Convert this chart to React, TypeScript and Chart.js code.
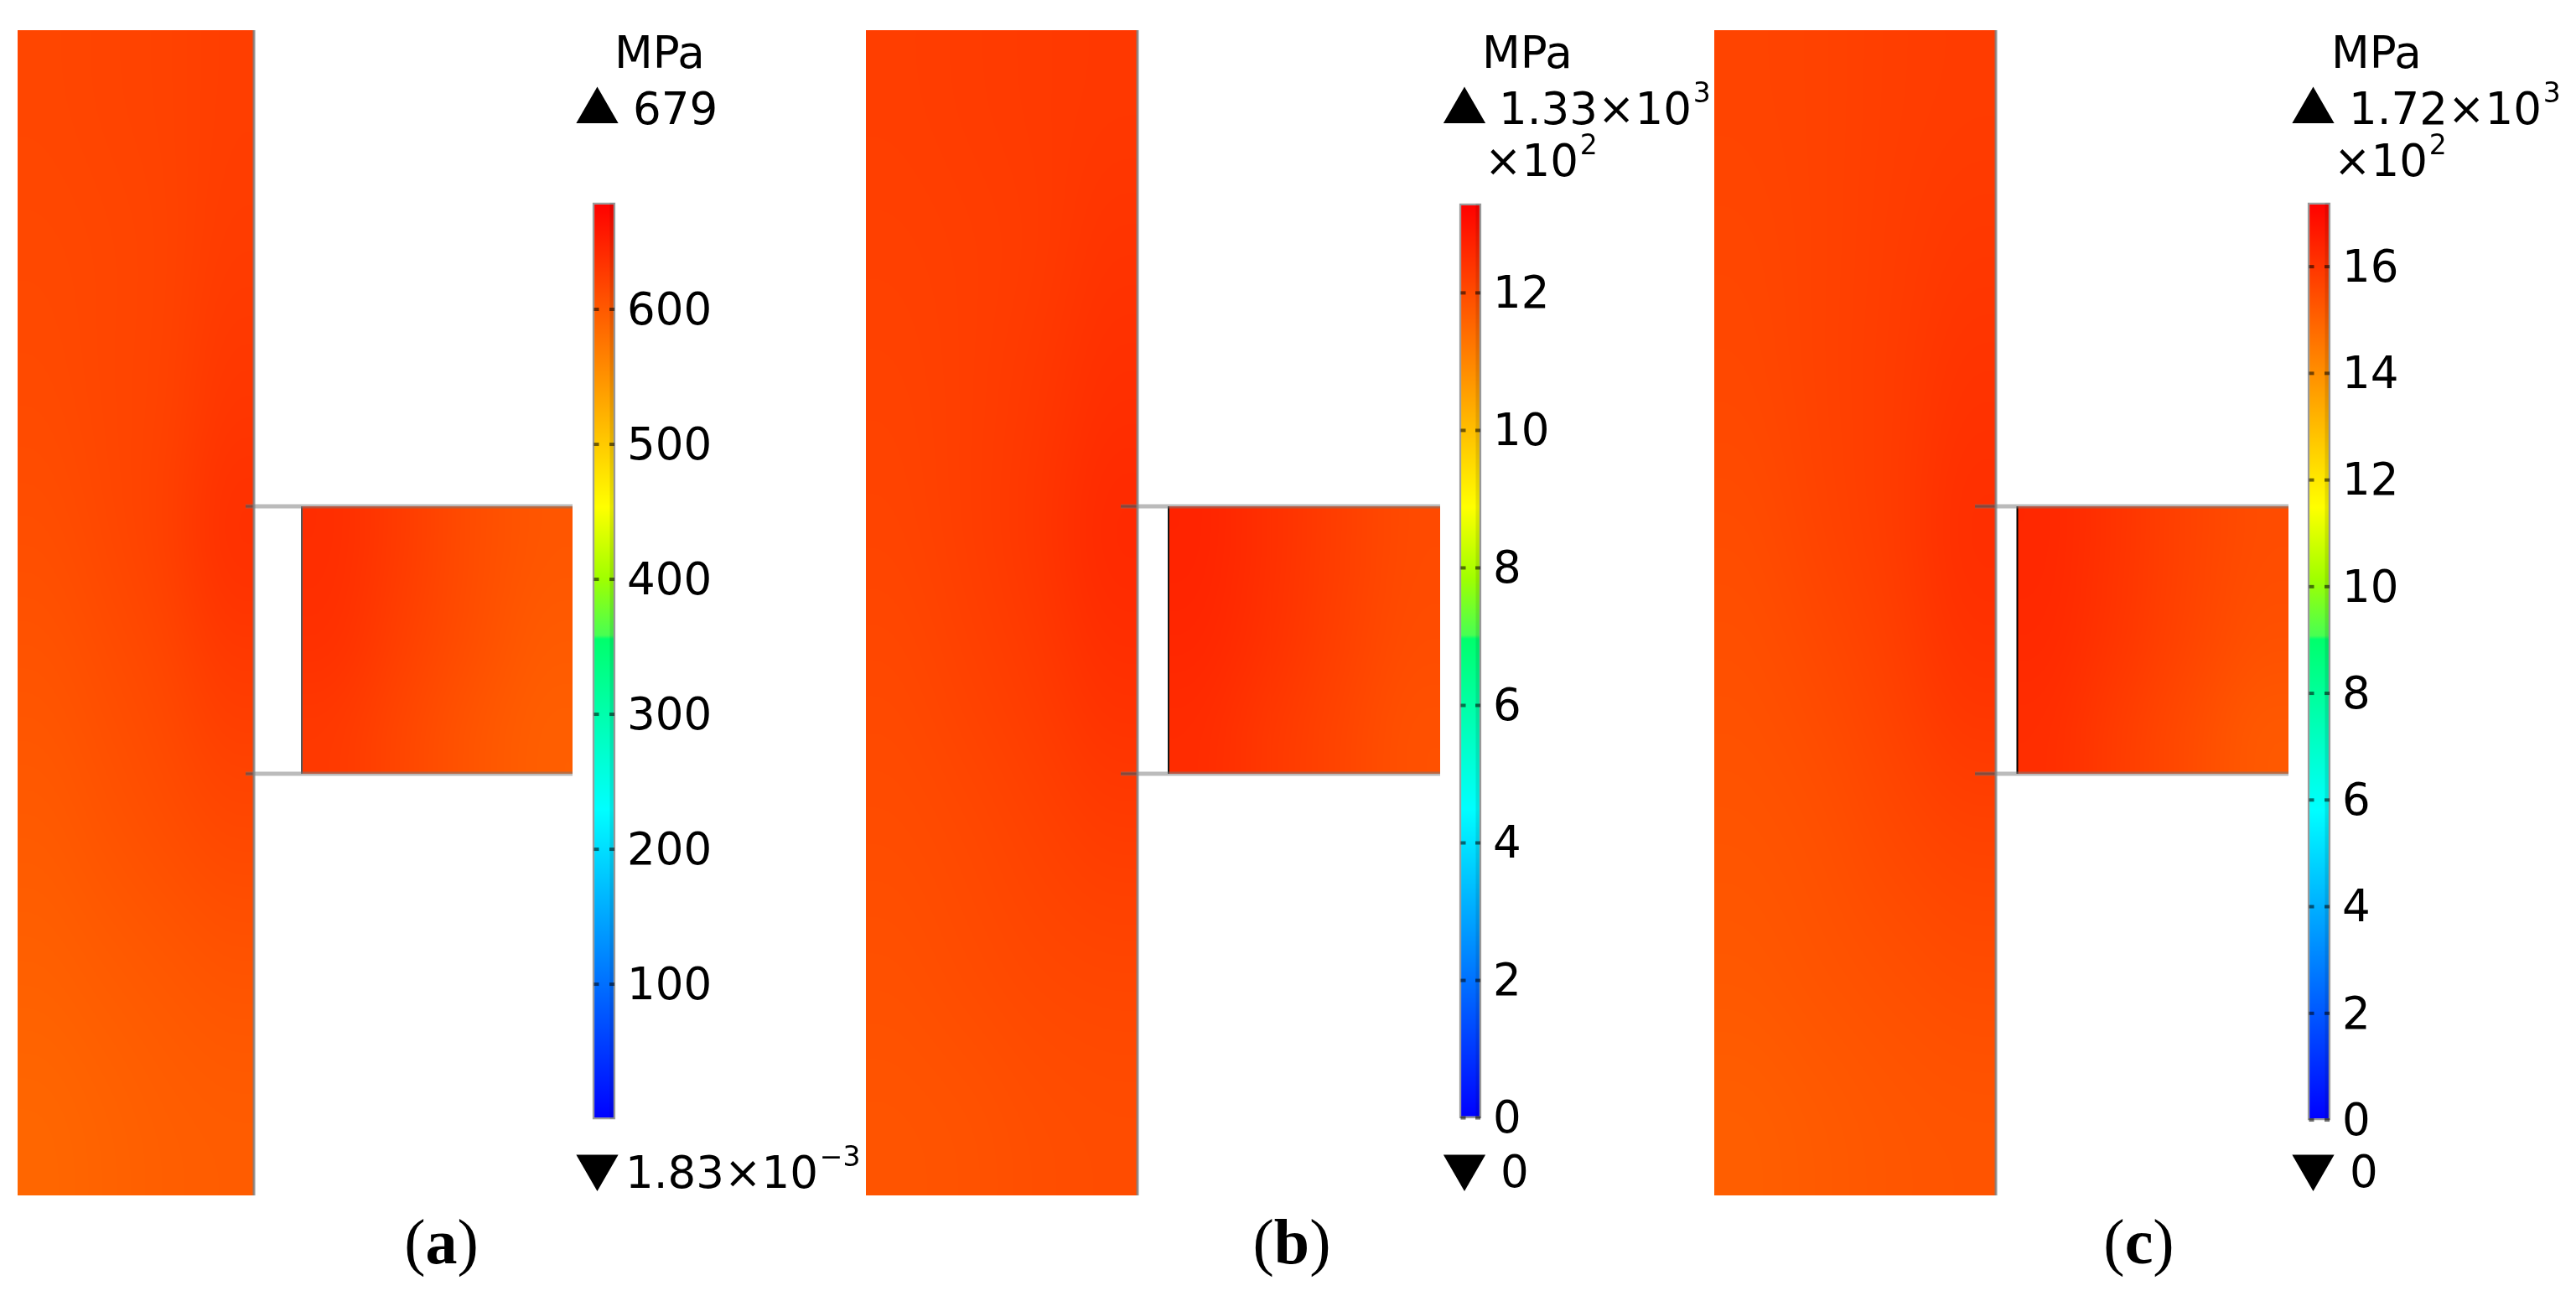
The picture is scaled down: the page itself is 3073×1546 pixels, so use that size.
import { useEffect, useRef } from "react"
import { Chart, registerables } from "chart.js"

Chart.register(...registerables)

const PAGE_WIDTH = 3073
const PAGE_HEIGHT = 1546
const FONT = '"DejaVu Sans"'

// rainbow colour table of the legend: [fraction of range, colour]
const colorStops: [number, string][] = [
  [0, "#0000ff"],
  [0.338, "#00ffff"],
  [0.524, "#00ff6c"],
  [0.528, "#48ff52"],
  [0.59, "#a0ff00"],
  [0.668, "#ffff00"],
  [1, "#ff0000"],
]

const ticksA = [100, 200, 300, 400, 500, 600]
const ticksB = [0, 2, 4, 6, 8, 10, 12]
const ticksC = [0, 2, 4, 6, 8, 10, 12, 14, 16]

const plateA = [
  [617, 619, 621, 624],
  [615, 617, 620, 626],
  [614, 617, 621, 630],
  [610, 615, 622, 636],
  [605, 610, 616, 626],
  [599, 605, 610, 615],
  [594, 598, 601, 605],
  [589, 592, 596, 598],
]
const rectA = [
  [638, 626, 612, 603],
  [636, 622, 610, 599],
  [629, 617, 605, 596],
]
const plateB = [
  [1223, 1226, 1230, 1233],
  [1219, 1223, 1228, 1240],
  [1216, 1223, 1233, 1248],
  [1212, 1223, 1236, 1258],
  [1205, 1216, 1228, 1246],
  [1198, 1205, 1216, 1226],
  [1191, 1198, 1205, 1209],
  [1185, 1188, 1195, 1198],
]
const rectB = [
  [1268, 1247, 1223, 1202],
  [1262, 1243, 1219, 1198],
  [1254, 1233, 1212, 1191],
]
const plateC = [
  [1568, 1572, 1581, 1586],
  [1563, 1572, 1583, 1595],
  [1559, 1572, 1586, 1605],
  [1550, 1568, 1586, 1615],
  [1541, 1554, 1574, 1602],
  [1532, 1541, 1559, 1572],
  [1523, 1532, 1541, 1550],
  [1509, 1518, 1527, 1532],
]
const rectC = [
  [1630, 1604, 1572, 1550],
  [1626, 1599, 1568, 1541],
  [1617, 1586, 1554, 1523],
]

interface Label {
  text: string
  sup?: string
  x: number
  y: number
}

interface Panel {
  left: number
  width: number
  plate: number[][]
  rect: number[][]
  plateX: [number, number]
  rectX: [number, number]
  barX: [number, number]
  connectorStart: number
  rectEdge: string
  triangleX: number
  // field range in MPa, legend range in axis units
  fieldMax: number
  legendMax: number
  ticks: number[]
  axisMin: number
  axisMax: number
  labels: Label[]
  caption: string
  captionX: number
}

const panels: Panel[] = [
  {
    left: 0,
    width: 1030,
    plate: plateA,
    rect: rectA,
    plateX: [21, 303],
    rectX: [360, 683],
    barX: [707, 734],
    connectorStart: 293,
    rectEdge: "#555555",
    triangleX: 712.5,
    fieldMax: 679,
    legendMax: 679,
    ticks: ticksA,
    axisMin: -131,
    axisMax: 829.2,
    labels: [
      { text: "MPa", x: 733, y: 81 },
      { text: "679", x: 755, y: 148 },
      { text: "1.83×10", sup: "−3", x: 746, y: 1417 },
    ],
    caption: "a",
    captionX: 526.5,
  },
  {
    left: 1030,
    width: 1013,
    plate: plateB,
    rect: rectB,
    plateX: [1033, 1357],
    rectX: [1394, 1718],
    barX: [1741, 1767],
    connectorStart: 1337,
    rectEdge: "#151515",
    triangleX: 1747,
    fieldMax: 1330,
    legendMax: 13.3,
    ticks: ticksB,
    axisMin: -2.59,
    axisMax: 16.26,
    labels: [
      { text: "MPa", x: 1768, y: 81 },
      { text: "1.33×10", sup: "3", x: 1788, y: 148 },
      { text: "×10", sup: "2", x: 1771, y: 210 },
      { text: "0", x: 1790, y: 1416 },
    ],
    caption: "b",
    captionX: 1541,
  },
  {
    left: 2043,
    width: 1030,
    plate: plateC,
    rect: rectC,
    plateX: [2045, 2381],
    rectX: [2406.5, 2730],
    barX: [2753, 2780],
    connectorStart: 2356,
    rectEdge: "#000000",
    triangleX: 2759.5,
    fieldMax: 1720,
    legendMax: 17.2,
    ticks: ticksC,
    axisMin: -3.3,
    axisMax: 21,
    labels: [
      { text: "MPa", x: 2781, y: 81 },
      { text: "1.72×10", sup: "3", x: 2802, y: 148 },
      { text: "×10", sup: "2", x: 2784, y: 210 },
      { text: "0", x: 2803, y: 1416 },
    ],
    caption: "c",
    captionX: 2551.5,
  },
]

const PLATE_Y: [number, number] = [36, 1426]
const RECT_Y: [number, number] = [604, 923]

function hexToRgb(hex: string) {
  return [1, 3, 5].map((i) => parseInt(hex.slice(i, i + 2), 16))
}

function colorAt(fraction: number) {
  for (let i = 1; i < colorStops.length; i++) {
    const [f0, c0] = colorStops[i - 1]
    const [f1, c1] = colorStops[i]
    if (fraction <= f1) {
      const t = Math.max(0, (fraction - f0) / (f1 - f0))
      const a = hexToRgb(c0)
      const b = hexToRgb(c1)
      return a.map((v, k) => Math.round(v + (b[k] - v) * t))
    }
  }
  return hexToRgb(colorStops[colorStops.length - 1][1])
}

// small image of the matrix, the browser smooths it when it is scaled up
function fieldImage(matrix: number[][], max: number) {
  const canvas = document.createElement("canvas")
  canvas.width = matrix[0].length
  canvas.height = matrix.length
  const ctx = canvas.getContext("2d")!
  const image = ctx.createImageData(canvas.width, canvas.height)
  matrix.forEach((row, r) =>
    row.forEach((value, c) => {
      const [red, green, blue] = colorAt(value / max)
      image.data.set([red, green, blue, 255], (r * canvas.width + c) * 4)
    })
  )
  ctx.putImageData(image, 0, 0)
  return canvas
}

function contourPlugin(panel: Panel) {
  const fields = [
    { image: fieldImage(panel.plate, panel.fieldMax), xs: panel.plateX, ys: PLATE_Y },
    { image: fieldImage(panel.rect, panel.fieldMax), xs: panel.rectX, ys: RECT_Y },
  ]
  return {
    id: "contour",
    beforeDatasetsDraw(chart: any) {
      const { ctx, scales } = chart
      ctx.save()
      ctx.imageSmoothingEnabled = true
      ctx.imageSmoothingQuality = "high"
      for (const f of fields) {
        const x0 = scales.x.getPixelForValue(f.xs[0])
        const x1 = scales.x.getPixelForValue(f.xs[1])
        const y0 = scales.geo.getPixelForValue(f.ys[0])
        const y1 = scales.geo.getPixelForValue(f.ys[1])
        ctx.drawImage(f.image, x0, y0, x1 - x0, y1 - y0)
      }
      ctx.restore()
    },
  }
}

function textPlugin(panel: Panel) {
  return {
    id: "panelText",
    afterDraw(chart: any) {
      const { ctx, scales } = chart
      ctx.save()
      ctx.fillStyle = "#000"
      ctx.textBaseline = "alphabetic"
      ctx.textAlign = "left"
      for (const label of panel.labels) {
        const x = scales.x.getPixelForValue(label.x)
        const y = scales.geo.getPixelForValue(label.y)
        ctx.font = `53px ${FONT}`
        ctx.fillText(label.text, x, y)
        if (label.sup) {
          const w = ctx.measureText(label.text).width
          ctx.font = `33px ${FONT}`
          ctx.fillText(label.sup, x + w + 2, y - 26)
        }
      }

      // caption, (a) with a bold letter
      const regular = '76px "Liberation Serif"'
      const bold = 'bold 76px "Liberation Serif"'
      ctx.font = regular
      const parenW = ctx.measureText("(").width
      ctx.font = bold
      const letterW = ctx.measureText(panel.caption).width
      const y = scales.geo.getPixelForValue(1507)
      let x = scales.x.getPixelForValue(panel.captionX) - (2 * parenW + letterW) / 2
      ctx.font = regular
      ctx.fillText("(", x, y)
      x += parenW
      ctx.font = bold
      ctx.fillText(panel.caption, x, y)
      x += letterW
      ctx.font = regular
      ctx.fillText(")", x, y)
      ctx.restore()
    },
  }
}

function legendGradient(context: any, panel: Panel) {
  const { chart } = context
  if (!chart.chartArea) return "#ff0000"
  const scale = chart.scales.y
  const g = chart.ctx.createLinearGradient(
    0,
    scale.getPixelForValue(0),
    0,
    scale.getPixelForValue(panel.legendMax)
  )
  colorStops.forEach(([f, c]) => g.addColorStop(f, c))
  return g
}

function segment(x0: number, x1: number, y: number, color: string, width: number) {
  return {
    type: "line",
    yAxisID: "geo",
    data: [
      { x: x0, y },
      { x: x1, y },
    ],
    borderColor: color,
    borderWidth: width,
    pointRadius: 0,
    clip: false,
  }
}

function upright(x: number, y0: number, y1: number, color: string, width: number) {
  return {
    type: "line",
    yAxisID: "geo",
    data: [
      { x, y: y0 },
      { x, y: y1 },
    ],
    borderColor: color,
    borderWidth: width,
    pointRadius: 0,
    clip: false,
  }
}

function buildDatasets(panel: Panel) {
  const [barLeft, barRight] = panel.barX
  const plateRight = panel.plateX[1]
  const rectLeft = panel.rectX[0]
  const rectRight = panel.rectX[1]
  const edgeLines = RECT_Y.flatMap((y) => [
    segment(panel.connectorStart, rectRight, y, "rgba(120,120,120,0.5)", 5),
    segment(panel.connectorStart, plateRight, y, "rgba(40,0,0,0.5)", 3),
  ])
  return [
    upright(plateRight, PLATE_Y[0], PLATE_Y[1], "rgba(130,130,130,0.85)", 3),
    ...edgeLines,
    upright(rectLeft, RECT_Y[0], RECT_Y[1], panel.rectEdge, 2),
    {
      type: "scatter",
      yAxisID: "y",
      data: panel.ticks.flatMap((t) => [
        { x: barLeft + 4.5, y: t },
        { x: barRight - 4, y: t },
      ]),
      pointStyle: "line",
      pointRadius: 3,
      pointBorderWidth: 4,
      pointBorderColor: "rgba(0,0,0,0.55)",
      showLine: false,
      clip: false,
    },
    {
      type: "line",
      yAxisID: "y",
      data: [
        { x: barRight - 4, y: 0 },
        { x: barRight - 4, y: panel.legendMax },
      ],
      borderColor: "rgba(0,0,0,0.1)",
      borderWidth: 5,
      pointRadius: 0,
      clip: false,
    },
    {
      type: "bar",
      yAxisID: "y",
      data: [{ x: (barLeft + barRight) / 2, y: [0, panel.legendMax] }],
      barThickness: barRight - barLeft,
      backgroundColor: (context: any) => legendGradient(context, panel),
      borderColor: "#9c9c9c",
      borderWidth: 2.5,
      borderSkipped: false,
      clip: false,
    },
    {
      type: "scatter",
      yAxisID: "geo",
      data: [{ x: panel.triangleX, y: 132.5 }],
      pointStyle: "triangle",
      pointRadius: 29,
      pointBorderWidth: 0,
      pointBackgroundColor: "#000",
      clip: false,
    },
    {
      type: "scatter",
      yAxisID: "geo",
      data: [{ x: panel.triangleX, y: 1392 }],
      pointStyle: "triangle",
      pointRotation: 180,
      pointRadius: 29,
      pointBorderWidth: 0,
      pointBackgroundColor: "#000",
      clip: false,
    },
  ]
}

function StressPanel({ panel }: { panel: Panel }) {
  const canvasRef = useRef<HTMLCanvasElement>(null)

  useEffect(() => {
    if (!canvasRef.current) return
    const axisWidth = panel.width - (panel.barX[1] - panel.left)

    const chart = new Chart(canvasRef.current, {
      type: "bar",
      data: { datasets: buildDatasets(panel) as any },
      plugins: [contourPlugin(panel), textPlugin(panel)],
      options: {
        animation: false,
        responsive: false,
        // the triangles would otherwise push the plot area inwards
        layout: { padding: 0, autoPadding: false },
        plugins: { legend: { display: false }, tooltip: { enabled: false } },
        scales: {
          x: {
            type: "linear",
            display: false,
            offset: false,
            min: panel.left,
            max: panel.barX[1],
          },
          // page height scale for the geometry and the annotations
          geo: {
            type: "linear",
            axis: "y",
            display: false,
            reverse: true,
            min: 0,
            max: PAGE_HEIGHT,
          },
          y: {
            type: "linear",
            position: "right",
            min: panel.axisMin,
            max: panel.axisMax,
            grid: { display: false, drawTicks: false },
            border: { display: false },
            afterBuildTicks: (scale: any) => {
              scale.ticks = panel.ticks.map((value) => ({ value }))
            },
            afterFit: (scale: any) => {
              scale.width = axisWidth
              scale.paddingTop = 0
              scale.paddingBottom = 0
            },
            ticks: {
              autoSkip: false,
              padding: 14,
              labelOffset: 4,
              color: "#000",
              font: { family: FONT, size: 53 },
              callback: (value: any) => String(value),
            },
          },
        },
      } as any,
    })

    return () => chart.destroy()
  }, [panel])

  return (
    <canvas
      ref={canvasRef}
      width={panel.width}
      height={PAGE_HEIGHT}
      style={{ position: "absolute", left: panel.left, top: 0, display: "block" }}
    />
  )
}

export default function App() {
  return (
    <div
      style={{
        position: "fixed",
        left: 0,
        top: 0,
        width: PAGE_WIDTH,
        height: PAGE_HEIGHT,
        background: "#fff",
        overflow: "hidden",
      }}
    >
      {panels.map((panel) => (
        <StressPanel key={panel.caption} panel={panel} />
      ))}
    </div>
  )
}
